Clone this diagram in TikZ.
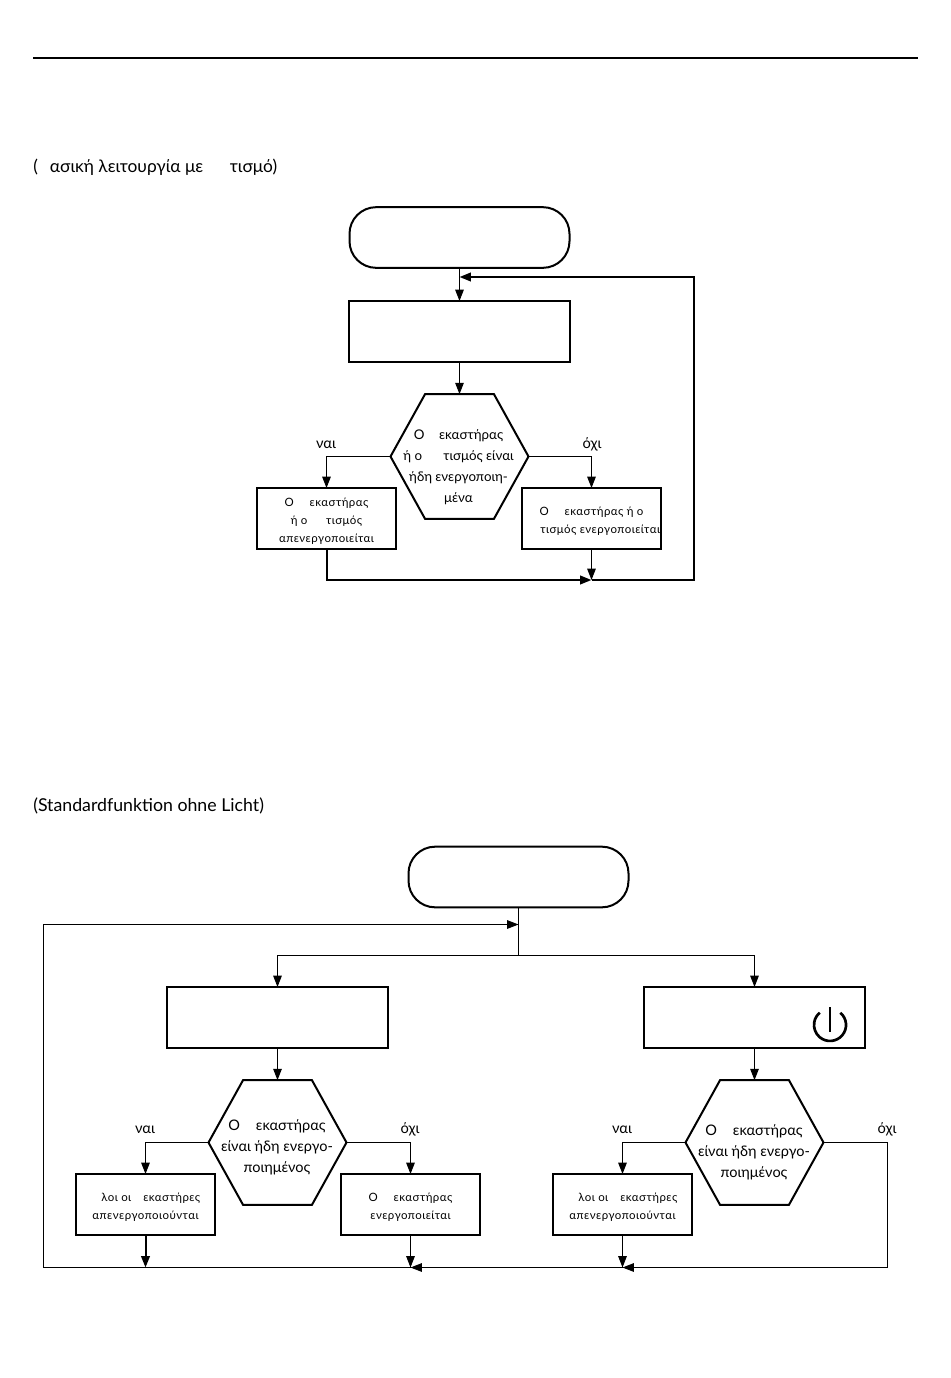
\documentclass[tikz,border=0pt]{standalone}
\usepackage{fontspec}
\setmainfont{Lato}
\newfontfamily\spacedfont[LetterSpace=4]{Lato}
\usetikzlibrary{arrows.meta,shapes.symbols}
\newcommand{\lowerline}{\rule{0pt}{11pt}}
\tikzset{
  flowtip/.style={-{Triangle[length=8.5pt,width=6.4pt]}},
  thin line/.style={line width=0.75pt},
  thick line/.style={line width=1.5pt},
  startbox/.style={draw,thick line,rounded corners=20pt,minimum width=165pt,minimum height=45.5pt,outer sep=0pt},
  bigbox/.style={draw,thick line,minimum width=165.75pt,minimum height=45.75pt,outer sep=0pt},
  smallbox/.style={draw,thick line,minimum width=104.25pt,minimum height=45.75pt,inner sep=0pt,outer sep=0pt,align=center,
    font=\spacedfont\fontsize{8.6}{13.5}\selectfont},
  hexbox/.style={draw,thick line,shape=signal,signal to=east and west,signal pointer angle=122,
    minimum width=103.5pt,minimum height=93.5pt,inner sep=0pt,outer sep=0pt},
  hextext/.style={align=center,inner sep=0pt,font=\fontsize{10}{15.75}\selectfont},
  hextextb/.style={hextext,font=\fontsize{10.9}{15.75}\selectfont},
  flowlabel/.style={inner sep=0pt,font=\fontsize{11}{13}\selectfont},
  titletext/.style={anchor=base west,inner sep=0pt,font=\fontsize{13.3}{16}\selectfont}
}
\begin{document}
\begin{tikzpicture}[x=0.75pt,y=-0.75pt]
  \useasboundingbox (0,0) rectangle (950,1378);
  \coordinate (rulea) at (33,58);
  \coordinate (ruleb) at (918,58);
  \draw[thick line] (rulea) -- (ruleb);
  \node[titletext,font=\fontsize{13}{16}\selectfont] (titlea) at (33,172) {(\hspace*{9pt}ασική λειτουργία με\hspace*{20pt}τισμό)};
  \node[titletext] (titleb) at (33,811) {(Standardfunktion ohne Licht)};
  % first chart
  \node[startbox] (starta) at (459.5,237.5) {};
  \node[bigbox] (boxa) at (459.5,331.5) {};
  \node[hexbox] (hexa) at (459.5,456.5) {};
  \node[hextext] (hexatext) at (458.5,467) {Ο\hspace*{11pt}εκαστήρας\\ή ο\hspace*{16pt}τισμός είναι\\ήδη ενεργοποιη-\\μένα};
  \node[smallbox] (boxb) at (326.5,518.5) {\lowerline Ο\hspace*{12pt}εκαστήρας\\ή ο\hspace*{14pt}τισμός\\απενεργοποιείται};
  \node[smallbox] (boxc) at (591.5,518.5) {\lowerline Ο\hspace*{12pt}εκαστήρας ή ο\\\hspace*{13pt}τισμός ενεργοποιείται};
  \node[flowlabel] (yesa) at (326,445) {ναι};
  \node[flowlabel] (noa) at (592,444) {όχι};
  \coordinate (joina) at (459.5,277);
  \coordinate (joinb) at (591.5,580);
  \coordinate (turna) at (694,277);
  \coordinate (turnb) at (694,580);
  \begin{scope}[flowtip,thin line]
    \draw (starta.south) to (boxa.north);
    \draw (boxa.south) to (hexa.north);
    \draw (hexa.west) -| (boxb.north);
    \draw (hexa.east) -| (boxc.north);
    \draw (boxc.south) to (joinb);
    \draw[thick line] (boxb.south) |- (joinb);
    \draw[thick line] (joinb) -- (turnb) -- (turna) -- (joina);
  \end{scope}
  % second chart
  \node[startbox] (startb) at (518.5,877) {};
  \node[bigbox] (boxd) at (277.5,1017.5) {};
  \node[bigbox] (boxe) at (754.5,1017.5) {};
  \node[hexbox] (hexb) at (277.5,1142.5) {};
  \node[hexbox] (hexc) at (754.5,1142.5) {};
  \node[hextextb] (hexbtext) at (277,1147) {Ο\hspace*{12pt}εκαστήρας\\είναι ήδη ενεργο-\\ποιημένος};
  \node[hextextb] (hexctext) at (754,1152) {Ο\hspace*{12pt}εκαστήρας\\είναι ήδη ενεργο-\\ποιημένος};
  \node[smallbox] (boxf) at (145.5,1204.5) {\lowerline\hspace*{8pt}λοι οι\hspace*{9pt}εκαστήρες\\απενεργοποιούνται};
  \node[smallbox] (boxg) at (410.5,1204.5) {\lowerline Ο\hspace*{12pt}εκαστήρας\\ενεργοποιείται};
  \node[smallbox] (boxh) at (622.5,1204.5) {\lowerline\hspace*{8pt}λοι οι\hspace*{9pt}εκαστήρες\\απενεργοποιούνται};
  \node[flowlabel] (yesb) at (145,1130) {ναι};
  \node[flowlabel] (nob) at (410,1129) {όχι};
  \node[flowlabel] (yesc) at (622,1130) {ναι};
  \node[flowlabel] (noc) at (887,1129) {όχι};
  \coordinate (joinc) at (518.5,924.5);
  \coordinate (joind) at (518.5,955.5);
  \coordinate (joine) at (145.5,1267.5);
  \coordinate (joinf) at (410.5,1267.5);
  \coordinate (joing) at (622.5,1267.5);
  \coordinate (turnc) at (887.5,1142.5);
  \coordinate (turnd) at (887.5,1267.5);
  \coordinate (turne) at (43.5,1267.5);
  \coordinate (turnf) at (43.5,924.5);
  \draw[thin line] (startb.south) -- (joind);
  \begin{scope}[flowtip,thin line]
    \draw (joind) -| (boxd.north);
    \draw (joind) -| (boxe.north);
    \draw (boxd.south) to (hexb.north);
    \draw (boxe.south) to (hexc.north);
    \draw (hexb.west) -| (boxf.north);
    \draw (hexb.east) -| (boxg.north);
    \draw (hexc.west) -| (boxh.north);
    \draw[thick line] (boxf.south) to (joine);
    \draw (boxg.south) to (joinf);
    \draw (boxh.south) to (joing);
    \draw (hexc.east) -- (turnc) -- (turnd) -- (joing);
    \draw (joing) -- (joinf);
    \draw (joinf) -- (turne) -- (turnf) -- (joinc);
  \end{scope}
  % power sign
  \coordinate (powersign) at (830,1025);
  \draw[line width=2pt] (840.3,1012.7) arc[start angle=50,end angle=-230,radius=12pt];
  \draw[thick line] (830,1007) -- (powersign) -- (830,1032);
\end{tikzpicture}
\end{document}
